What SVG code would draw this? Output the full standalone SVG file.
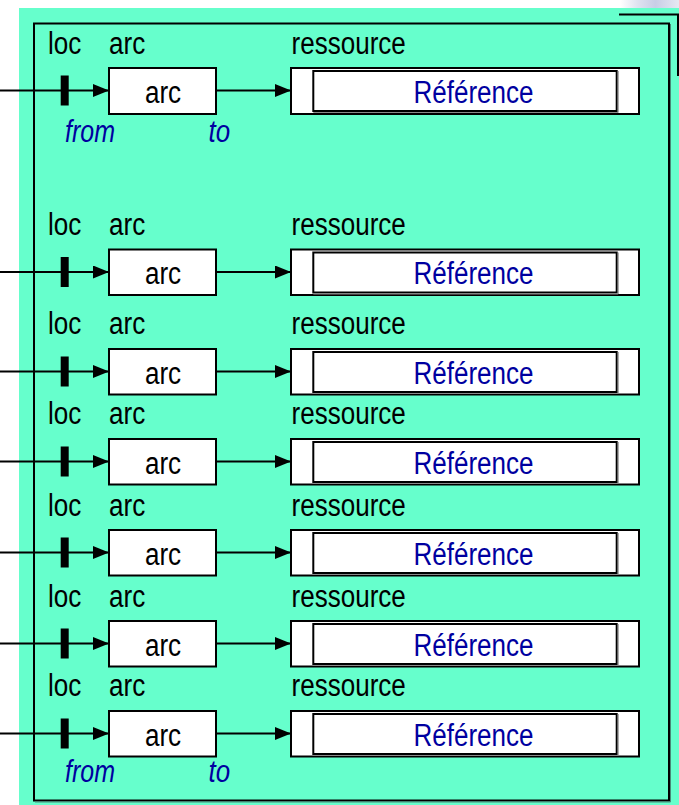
<svg xmlns="http://www.w3.org/2000/svg" width="679" height="805" viewBox="0 0 679 805">
  <defs>
    <style>
      .lbl { font-family: "Liberation Sans", Arial, sans-serif; font-size: 31px; fill: #000; }
      .ref { font-family: "Liberation Sans", Arial, sans-serif; font-size: 31px; fill: #0000a0; }
      .it { font-family: "Liberation Sans", Arial, sans-serif; font-size: 31px; font-style: italic; fill: #0000a0; }
      .box { fill: #fff; stroke: #000; stroke-width: 2; }
      .inner { fill: #fff; stroke: #000; stroke-width: 2; }
      .shade { fill: none; stroke: #8a8a8a; stroke-width: 1; }
      .bar { fill: #000; }
      .conn { stroke: #000; stroke-width: 2; fill: none; marker-end: url(#arrow); }
    </style>
    <marker id="arrow" markerUnits="userSpaceOnUse" markerWidth="16" markerHeight="13" refX="16" refY="6.5" orient="auto">
      <path d="M0,0 L16,6.5 L0,13 Z" fill="#000"/>
    </marker>
    <linearGradient id="bg" x1="0" y1="0" x2="1" y2="0">
      <stop offset="0" stop-color="#ffffff"/>
      <stop offset="0.3" stop-color="#dfe2f0"/>
      <stop offset="0.6" stop-color="#c8cde6"/>
      <stop offset="1" stop-color="#e6e8f2"/>
    </linearGradient>
  </defs>

  <rect x="0" y="0" width="679" height="805" fill="#fff"/>
  <rect x="620" y="0" width="59" height="8" fill="url(#bg)"/>
  <rect x="19" y="8" width="660" height="797" fill="#66ffcc"/>

  <g id="frame">
    <polyline points="619,14.5 678,14.5 678,76" fill="none" stroke="#000" stroke-width="2"/>
    <rect x="34" y="23.5" width="635" height="777" fill="none" stroke="#000" stroke-width="2"/>
    <polyline points="670.5,24 670.5,802 35,802" fill="none" stroke="#4a8a78" stroke-width="1"/>
  </g>

  <g id="connectors">
    <line class="conn" x1="0" y1="90.5" x2="109" y2="90.5"/>
    <line class="conn" x1="216" y1="90.5" x2="291" y2="90.5"/>
    <line class="conn" x1="0" y1="272" x2="109" y2="272"/>
    <line class="conn" x1="216" y1="272" x2="291" y2="272"/>
    <line class="conn" x1="0" y1="371.5" x2="109" y2="371.5"/>
    <line class="conn" x1="216" y1="371.5" x2="291" y2="371.5"/>
    <line class="conn" x1="0" y1="461.5" x2="109" y2="461.5"/>
    <line class="conn" x1="216" y1="461.5" x2="291" y2="461.5"/>
    <line class="conn" x1="0" y1="552.5" x2="109" y2="552.5"/>
    <line class="conn" x1="216" y1="552.5" x2="291" y2="552.5"/>
    <line class="conn" x1="0" y1="643.5" x2="109" y2="643.5"/>
    <line class="conn" x1="216" y1="643.5" x2="291" y2="643.5"/>
    <line class="conn" x1="0" y1="733.5" x2="109" y2="733.5"/>
    <line class="conn" x1="216" y1="733.5" x2="291" y2="733.5"/>
  </g>

  <!-- Row 1 -->
  <g id="row1-labels">
    <text class="lbl" x="48" y="53.5" textLength="33.3" lengthAdjust="spacingAndGlyphs">loc</text>
    <text class="lbl" x="109" y="53.5" textLength="36.2" lengthAdjust="spacingAndGlyphs">arc</text>
    <text class="lbl" x="291.5" y="53.5" textLength="114.3" lengthAdjust="spacingAndGlyphs">ressource</text>
  </g>
  <g id="row1-loc"><rect class="bar" x="60.7" y="75.5" width="8" height="30"/></g>
  <g id="row1-arc">
    <rect class="box" x="109" y="68" width="107" height="46"/>
    <text class="lbl" x="163" y="102.5" text-anchor="middle" textLength="36.2" lengthAdjust="spacingAndGlyphs">arc</text>
  </g>
  <g id="row1-ressource">
    <rect class="box" x="291" y="68" width="348" height="46"/>
    <rect class="inner" x="313.3" y="71" width="303.4" height="40"/>
    <polyline class="shade" points="618.2,71 618.2,112.5 313.3,112.5"/>
    <text class="ref" x="473.5" y="102.5" text-anchor="middle" textLength="120" lengthAdjust="spacingAndGlyphs">Référence</text>
  </g>
  <g id="row1-ends">
    <text class="it" x="65" y="142" textLength="50" lengthAdjust="spacingAndGlyphs">from</text>
    <text class="it" x="208.5" y="142" textLength="21.7" lengthAdjust="spacingAndGlyphs">to</text>
  </g>

  <!-- Row 2 -->
  <g id="row2-labels">
    <text class="lbl" x="48" y="235" textLength="33.3" lengthAdjust="spacingAndGlyphs">loc</text>
    <text class="lbl" x="109" y="235" textLength="36.2" lengthAdjust="spacingAndGlyphs">arc</text>
    <text class="lbl" x="291.5" y="235" textLength="114.3" lengthAdjust="spacingAndGlyphs">ressource</text>
  </g>
  <g id="row2-loc"><rect class="bar" x="60.7" y="257" width="8" height="30"/></g>
  <g id="row2-arc">
    <rect class="box" x="109" y="249.5" width="107" height="45.5"/>
    <text class="lbl" x="163" y="284" text-anchor="middle" textLength="36.2" lengthAdjust="spacingAndGlyphs">arc</text>
  </g>
  <g id="row2-ressource">
    <rect class="box" x="291" y="249.5" width="348" height="45.5"/>
    <rect class="inner" x="313.3" y="252.5" width="303.4" height="40"/>
    <polyline class="shade" points="618.2,252.5 618.2,294 313.3,294"/>
    <text class="ref" x="473.5" y="284" text-anchor="middle" textLength="120" lengthAdjust="spacingAndGlyphs">Référence</text>
  </g>

  <!-- Row 3 -->
  <g id="row3-labels">
    <text class="lbl" x="48" y="334" textLength="33.3" lengthAdjust="spacingAndGlyphs">loc</text>
    <text class="lbl" x="109" y="334" textLength="36.2" lengthAdjust="spacingAndGlyphs">arc</text>
    <text class="lbl" x="291.5" y="334" textLength="114.3" lengthAdjust="spacingAndGlyphs">ressource</text>
  </g>
  <g id="row3-loc"><rect class="bar" x="60.7" y="356.5" width="8" height="30"/></g>
  <g id="row3-arc">
    <rect class="box" x="109" y="349" width="107" height="45.5"/>
    <text class="lbl" x="163" y="383.5" text-anchor="middle" textLength="36.2" lengthAdjust="spacingAndGlyphs">arc</text>
  </g>
  <g id="row3-ressource">
    <rect class="box" x="291" y="349" width="348" height="45.5"/>
    <rect class="inner" x="313.3" y="352" width="303.4" height="40"/>
    <polyline class="shade" points="618.2,352 618.2,393.5 313.3,393.5"/>
    <text class="ref" x="473.5" y="383.5" text-anchor="middle" textLength="120" lengthAdjust="spacingAndGlyphs">Référence</text>
  </g>

  <!-- Row 4 -->
  <g id="row4-labels">
    <text class="lbl" x="48" y="424" textLength="33.3" lengthAdjust="spacingAndGlyphs">loc</text>
    <text class="lbl" x="109" y="424" textLength="36.2" lengthAdjust="spacingAndGlyphs">arc</text>
    <text class="lbl" x="291.5" y="424" textLength="114.3" lengthAdjust="spacingAndGlyphs">ressource</text>
  </g>
  <g id="row4-loc"><rect class="bar" x="60.7" y="446.5" width="8" height="30"/></g>
  <g id="row4-arc">
    <rect class="box" x="109" y="439" width="107" height="45.5"/>
    <text class="lbl" x="163" y="473.5" text-anchor="middle" textLength="36.2" lengthAdjust="spacingAndGlyphs">arc</text>
  </g>
  <g id="row4-ressource">
    <rect class="box" x="291" y="439" width="348" height="45.5"/>
    <rect class="inner" x="313.3" y="442" width="303.4" height="40"/>
    <polyline class="shade" points="618.2,442 618.2,483.5 313.3,483.5"/>
    <text class="ref" x="473.5" y="473.5" text-anchor="middle" textLength="120" lengthAdjust="spacingAndGlyphs">Référence</text>
  </g>

  <!-- Row 5 -->
  <g id="row5-labels">
    <text class="lbl" x="48" y="515.5" textLength="33.3" lengthAdjust="spacingAndGlyphs">loc</text>
    <text class="lbl" x="109" y="515.5" textLength="36.2" lengthAdjust="spacingAndGlyphs">arc</text>
    <text class="lbl" x="291.5" y="515.5" textLength="114.3" lengthAdjust="spacingAndGlyphs">ressource</text>
  </g>
  <g id="row5-loc"><rect class="bar" x="60.7" y="537.5" width="8" height="30"/></g>
  <g id="row5-arc">
    <rect class="box" x="109" y="530" width="107" height="45.5"/>
    <text class="lbl" x="163" y="564.5" text-anchor="middle" textLength="36.2" lengthAdjust="spacingAndGlyphs">arc</text>
  </g>
  <g id="row5-ressource">
    <rect class="box" x="291" y="530" width="348" height="45.5"/>
    <rect class="inner" x="313.3" y="533" width="303.4" height="40"/>
    <polyline class="shade" points="618.2,533 618.2,574.5 313.3,574.5"/>
    <text class="ref" x="473.5" y="564.5" text-anchor="middle" textLength="120" lengthAdjust="spacingAndGlyphs">Référence</text>
  </g>

  <!-- Row 6 -->
  <g id="row6-labels">
    <text class="lbl" x="48" y="606.5" textLength="33.3" lengthAdjust="spacingAndGlyphs">loc</text>
    <text class="lbl" x="109" y="606.5" textLength="36.2" lengthAdjust="spacingAndGlyphs">arc</text>
    <text class="lbl" x="291.5" y="606.5" textLength="114.3" lengthAdjust="spacingAndGlyphs">ressource</text>
  </g>
  <g id="row6-loc"><rect class="bar" x="60.7" y="628.5" width="8" height="30"/></g>
  <g id="row6-arc">
    <rect class="box" x="109" y="621" width="107" height="45.5"/>
    <text class="lbl" x="163" y="655.5" text-anchor="middle" textLength="36.2" lengthAdjust="spacingAndGlyphs">arc</text>
  </g>
  <g id="row6-ressource">
    <rect class="box" x="291" y="621" width="348" height="45.5"/>
    <rect class="inner" x="313.3" y="624" width="303.4" height="40"/>
    <polyline class="shade" points="618.2,624 618.2,665.5 313.3,665.5"/>
    <text class="ref" x="473.5" y="655.5" text-anchor="middle" textLength="120" lengthAdjust="spacingAndGlyphs">Référence</text>
  </g>

  <!-- Row 7 -->
  <g id="row7-labels">
    <text class="lbl" x="48" y="696" textLength="33.3" lengthAdjust="spacingAndGlyphs">loc</text>
    <text class="lbl" x="109" y="696" textLength="36.2" lengthAdjust="spacingAndGlyphs">arc</text>
    <text class="lbl" x="291.5" y="696" textLength="114.3" lengthAdjust="spacingAndGlyphs">ressource</text>
  </g>
  <g id="row7-loc"><rect class="bar" x="60.7" y="718.5" width="8" height="30"/></g>
  <g id="row7-arc">
    <rect class="box" x="109" y="711" width="107" height="45.5"/>
    <text class="lbl" x="163" y="745.5" text-anchor="middle" textLength="36.2" lengthAdjust="spacingAndGlyphs">arc</text>
  </g>
  <g id="row7-ressource">
    <rect class="box" x="291" y="711" width="348" height="45.5"/>
    <rect class="inner" x="313.3" y="714" width="303.4" height="40"/>
    <polyline class="shade" points="618.2,714 618.2,755.5 313.3,755.5"/>
    <text class="ref" x="473.5" y="745.5" text-anchor="middle" textLength="120" lengthAdjust="spacingAndGlyphs">Référence</text>
  </g>
  <g id="row7-ends">
    <text class="it" x="65" y="782" textLength="50" lengthAdjust="spacingAndGlyphs">from</text>
    <text class="it" x="208.5" y="782" textLength="21.7" lengthAdjust="spacingAndGlyphs">to</text>
  </g>
</svg>
